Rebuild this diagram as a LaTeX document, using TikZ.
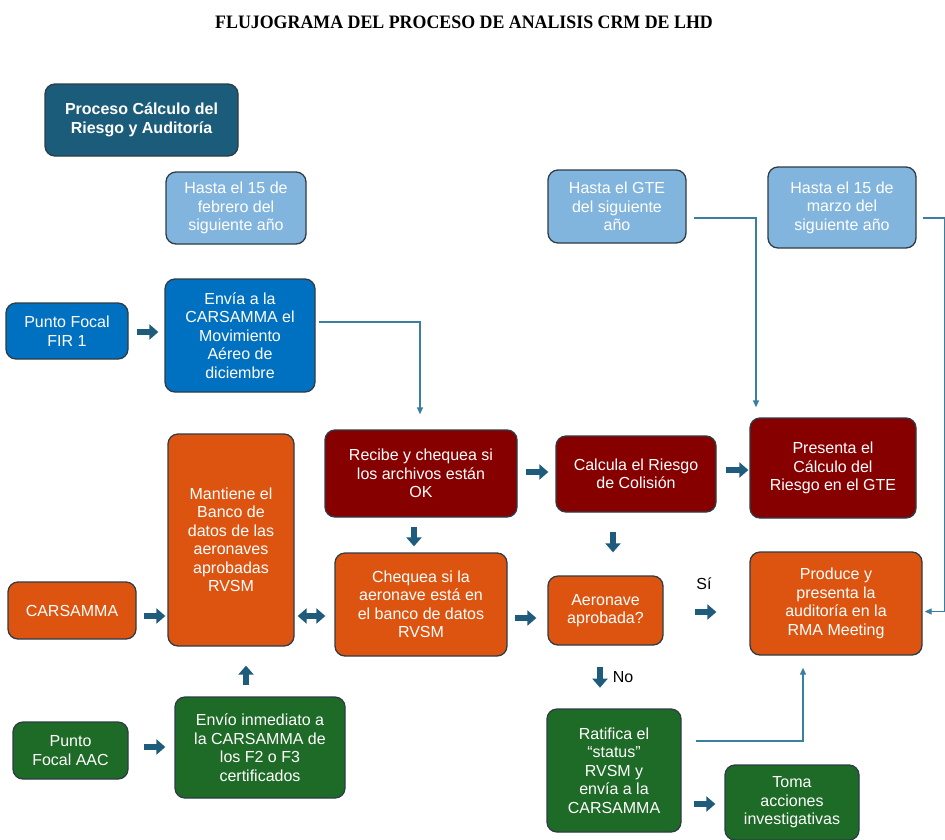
\documentclass[tikz,border=0pt]{standalone}
\usepackage{fontspec}
\setmainfont{Liberation Sans}
\newfontfamily\titlefont{Liberation Serif}
\usetikzlibrary{arrows.meta,calc}
\definecolor{cproc}{HTML}{1A5C7A}
\definecolor{clight}{HTML}{82B5DE}
\definecolor{cblue}{HTML}{0070C0}
\definecolor{cred}{HTML}{870000}
\definecolor{corange}{HTML}{DD5410}
\definecolor{cgreen}{HTML}{1E6B27}
\definecolor{cborder}{HTML}{2E3C46}
\definecolor{carrow}{HTML}{1F5C7C}
\definecolor{cline}{HTML}{3A7FA2}
\begin{document}
\begin{tikzpicture}[x=1pt,y=-1pt,
  box/.style={draw=cborder, line width=1.3pt, rounded corners=10pt, text=white,
    align=center, font=\fontsize{16}{18.5}\selectfont, inner sep=2pt},
  blk/.style={draw=carrow, line width=6pt, -{Triangle[width=15pt,length=9pt]}},
  blkd/.style={draw=carrow, line width=6pt, {Triangle[width=15pt,length=9pt]}-{Triangle[width=15pt,length=9pt]}},
  thinarr/.style={draw=cline, line width=1.3pt, -{Triangle[width=6pt,length=7pt]}},
  lbl/.style={text=black, font=\fontsize{16}{18}\selectfont, inner sep=0pt}]
\useasboundingbox (0,0) rectangle (945,839);
\fill[white] (0,0) rectangle (945,839);

\node[font=\titlefont\bfseries\fontsize{19}{21}\selectfont, inner sep=0pt] (title) at (464,22) {\scalebox{0.94}[1]{FLUJOGRAMA DEL PROCESO DE ANALISIS CRM DE LHD}};

\node[box, fill=cproc, minimum width=193pt, minimum height=72pt, font=\bfseries\fontsize{16}{18.5}\selectfont] (proc) at (141.5,120) {Proceso Cálculo del\\Riesgo y Auditoría};
\node[box, fill=clight, minimum width=140pt, minimum height=72pt] (h1) at (236,208) {Hasta el 15 de\\febrero del\\siguiente año};
\node[box, fill=cblue, minimum width=122pt, minimum height=56pt] (fir) at (67,331) {Punto Focal\\FIR 1};
\node[box, fill=cblue, minimum width=150pt, minimum height=113pt] (envia) at (240,335.5) {Envía a la\\CARSAMMA el\\Movimiento\\Aéreo de\\diciembre};
\node[box, fill=clight, minimum width=138pt, minimum height=73pt] (h2) at (617,206.5) {Hasta el GTE\\del siguiente\\año};
\node[box, fill=clight, minimum width=148pt, minimum height=81pt] (h3) at (842,207.5) {Hasta el 15 de\\marzo del\\siguiente año};
\node[box, fill=cred, minimum width=192pt, minimum height=87pt] (recibe) at (421,473.5) {Recibe y chequea si\\los archivos están\\OK};
\node[box, fill=cred, minimum width=160pt, minimum height=76pt] (calcula) at (636,474) {Calcula el Riesgo\\de Colisión};
\node[box, fill=cred, minimum width=166pt, minimum height=100pt] (presenta) at (833,468) {Presenta el\\Cálculo del\\Riesgo en el GTE};
\node[box, fill=corange, minimum width=126pt, minimum height=212pt] (mantiene) at (231,540) {Mantiene el\\Banco de\\datos de las\\aeronaves\\aprobadas\\RVSM};
\node[box, fill=corange, minimum width=128pt, minimum height=57pt] (cars) at (72,610.5) {CARSAMMA};
\node[box, fill=corange, minimum width=172pt, minimum height=103pt] (chequea) at (421,604.5) {Chequea si la\\aeronave está en\\el banco de datos\\RVSM};
\node[box, fill=corange, minimum width=115pt, minimum height=69pt] (aero) at (605.5,610.5) {Aeronave\\aprobada?};
\node[box, fill=corange, minimum width=172pt, minimum height=103pt] (produce) at (836,603.5) {Produce y\\presenta la\\auditoría en la\\RMA Meeting};
\node[box, fill=cgreen, minimum width=115pt, minimum height=57pt] (aac) at (70.5,750.5) {Punto\\Focal AAC};
\node[box, fill=cgreen, minimum width=170pt, minimum height=101pt] (envio) at (260,747.5) {Envío inmediato a\\la CARSAMMA de\\los F2 o F3\\certificados};
\node[box, fill=cgreen, minimum width=134pt, minimum height=123pt] (ratifica) at (614,770.5) {Ratifica el\\“status”\\RVSM y\\envía a la\\CARSAMMA};
\node[box, fill=cgreen, minimum width=134pt, minimum height=75pt] (toma) at (792,802.5) {Toma\\acciones\\investigativas};

% block arrows
\draw[blk] ($(fir.east)+(8,1)$) -- ($(fir.east -| envia.west)+(-6,1)$);
\draw[blk] ($(cars.east)+(7,5.5)$) -- ($(cars.east -| mantiene.west)+(-2,5.5)$);
\draw[blkd] ($(mantiene.east)+(3,76)$) -- ($(mantiene.east -| chequea.west)+(-9,76)$);
\draw[blk] ($(envio.north)+(-14,-11)$) -- ($(mantiene.south)+(15,19)$);
\draw[blk] ($(aac.east)+(15,-3.5)$) -- ($(aac.east -| envio.west)+(-9,-3.5)$);
\draw[blk] ($(recibe.south)+(-7,9)$) -- ($(chequea.north)+(-7,-6)$);
\draw[blk] ($(recibe.east)+(8,-1.5)$) -- ($(recibe.east -| calcula.west)+(-7,-1.5)$);
\draw[blk] ($(calcula.east)+(9,-4)$) -- ($(calcula.east -| presenta.west)+(-1,-4)$);
\draw[blk] ($(aero.north)+(7.5,-43)$) -- ($(aero.north)+(7.5,-23)$);
\draw[blk] ($(chequea.east)+(7,13.5)$) -- ($(chequea.east -| aero.west)+(-11,13.5)$);
\draw[blk] ($(aero.east)+(31,1.5)$) -- ($(aero.east -| produce.west)+(-33,1.5)$);
\node[lbl] (si) at (704,584) {Sí};
\draw[blk] ($(aero.south)+(-5.5,21)$) -- ($(aero.south)+(-5.5,42)$);
\node[lbl] (no) at (623,677) {No};
\draw[blk] ($(ratifica.east)+(12,33.5)$) -- ($(ratifica.east -| toma.west)+(-9,33.5)$);

% thin connectors
\draw[thinarr] ($(envia.east)+(3,-13.5)$) -| ($(recibe.north)+(-1,-15)$);
\draw[thinarr] ($(h2.east)+(7,11.5)$) -| ($(presenta.north)+(-77,-10)$);
\draw[thinarr] ($(h3.east)+(6,10.5)$) -- ++(22,0) |- ($(produce.east)+(2,8)$);
\draw[thinarr] ($(ratifica.east)+(14,-29.5)$) -| ($(produce.south)+(-33,12)$);
\end{tikzpicture}
\end{document}
